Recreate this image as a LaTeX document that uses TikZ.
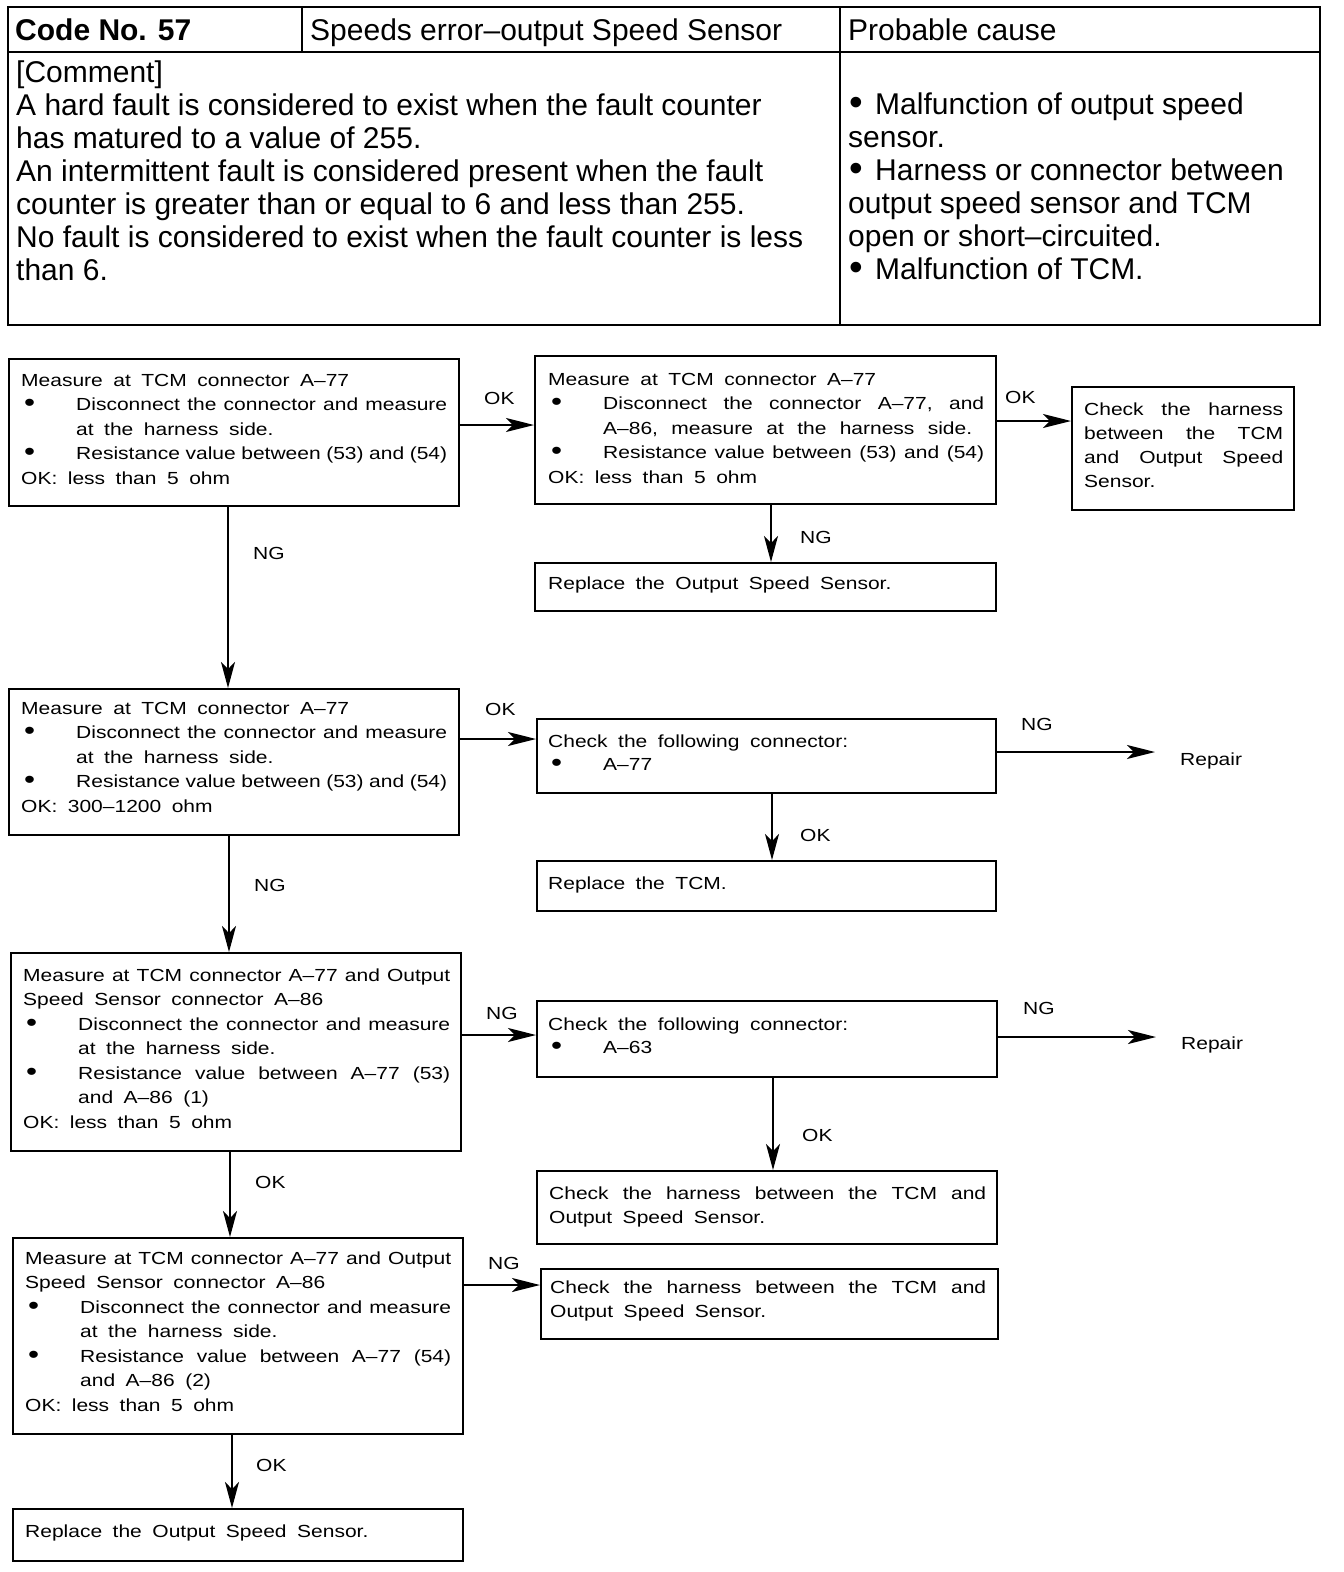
\documentclass[tikz,border=0pt]{standalone}
\usepackage{fontspec}
\setmainfont{Liberation Sans}
\newfontfamily\bxf[FakeStretch=1.2,WordSpace=1.8]{Liberation Sans}
\usetikzlibrary{arrows.meta}
\newcommand{\Bul}{\raisebox{-0.15ex}{\scalebox{1.5}{\textbullet}}}
\newcommand{\LnJ}[2]{\hbox to #1pt{\spaceskip=0pt plus 1fil\xspaceskip=0pt plus 1fil\relax #2}}
\newcommand{\LnN}[1]{\hbox{#1}}
\newcommand{\LnB}[1]{\hbox{\hbox to 55pt{\hskip3pt\Bul\hss}#1}}
\newcommand{\LnBJ}[2]{\hbox{\hbox to 55pt{\hskip3pt\Bul\hss}\LnJ{#1}{#2}}}
\newcommand{\LnI}[1]{\hbox{\hskip55pt #1}}
\newcommand{\LnIJ}[2]{\hbox{\hskip55pt\LnJ{#1}{#2}}}
\newcommand{\TBl}[1]{\hbox{\hbox to 27pt{\hskip1pt\raisebox{-0.1ex}{\scalebox{1.3}{\textbullet}}\hss}#1}}
\begin{document}
\begin{tikzpicture}[x=1pt,y=-1pt,
  bx/.style={draw, line width=1.8pt, inner sep=0pt, anchor=north west},
  txt/.style={anchor=base west, inner sep=0pt, font=\bxf\fontsize{17.5pt}{24.5pt}\selectfont\frenchspacing},
  lbl/.style={anchor=base west, inner sep=0pt, font=\bxf\fontsize{17.5pt}{24.5pt}\selectfont},
  tt/.style={anchor=base west, inner sep=0pt, font=\fontsize{30pt}{33pt}\selectfont},
  tline/.style={line width=1.8pt},
  harr/.style={line width=2.2pt, -{Stealth[length=28pt,width=14pt,inset=7pt]}},
  varr/.style={line width=1.2pt, -{Stealth[length=26pt,width=14pt,inset=7pt]}}]
\path[fill=white] (0,0) rectangle (1344,1572);
\useasboundingbox (0,0) rectangle (1344,1572);

% ---------- top table ----------
\draw[tline] (8,7) rectangle (1320,325);
\draw[tline] (8,52) -- (1320,52);
\draw[tline] (302,7) -- (302,52);
\draw[tline] (840,7) -- (840,325);
\node[tt] (code) at (15,40) {\bfseries Code No. 57};
\node[tt] (title) at (310,40) {Speeds error–output Speed Sensor};
\node[tt] (pc) at (848,40) {Probable cause};
\node[tt] (cmt) at (16,82) {\vtop{\baselineskip=33pt
  \LnN{[Comment]}
  \LnN{A hard fault is considered to exist when the fault counter}
  \LnN{has matured to a value of 255.}
  \LnN{An intermittent fault is considered present when the fault}
  \LnN{counter is greater than or equal to 6 and less than 255.}
  \LnN{No fault is considered to exist when the fault counter is less}
  \LnN{than 6.}}};
\node[tt] (cause) at (848,114) {\vtop{\baselineskip=33pt
  \TBl{Malfunction of output speed}
  \LnN{sensor.}
  \TBl{Harness or connector between}
  \LnN{output speed sensor and TCM}
  \LnN{open or short–circuited.}
  \TBl{Malfunction of TCM.}}};

% ---------- boxes ----------
\node[bx, minimum width=450pt, minimum height=147pt] (A1) at (8,358) {};
\node[bx, minimum width=461pt, minimum height=148pt] (B1) at (534,355) {};
\node[bx, minimum width=222pt, minimum height=123pt] (C1) at (1071,386) {};
\node[bx, minimum width=461pt, minimum height=48pt] (D1) at (534,562) {};
\node[bx, minimum width=450pt, minimum height=146pt] (A2) at (8,688) {};
\node[bx, minimum width=459pt, minimum height=74pt] (B2) at (536,718) {};
\node[bx, minimum width=459pt, minimum height=50pt] (D2) at (536,860) {};
\node[bx, minimum width=450pt, minimum height=198pt] (A3) at (10,952) {};
\node[bx, minimum width=460pt, minimum height=76pt] (B3) at (536,1000) {};
\node[bx, minimum width=460pt, minimum height=73pt] (D3) at (536,1170) {};
\node[bx, minimum width=450pt, minimum height=196pt] (A4) at (12,1237) {};
\node[bx, minimum width=457pt, minimum height=70pt] (B4) at (540,1268) {};
\node[bx, minimum width=450pt, minimum height=52pt] (D4) at (12,1508) {};

% ---------- box texts ----------
\node[txt] (A1t) at (21,386) {\vtop{
  \LnN{Measure at TCM connector A–77}
  \LnBJ{371}{Disconnect the connector and measure}
  \LnI{at the harness side.}
  \LnBJ{371}{Resistance value between (53) and (54)}
  \LnN{OK: less than 5 ohm}}};
\node[txt] (B1t) at (548,385) {\vtop{
  \LnN{Measure at TCM connector A–77}
  \LnBJ{381}{Disconnect the connector A–77, and}
  \LnIJ{369}{A–86, measure at the harness side.}
  \LnBJ{381}{Resistance value between (53) and (54)}
  \LnN{OK: less than 5 ohm}}};
\node[txt] (C1t) at (1084,415) {\vtop{\baselineskip=24pt
  \LnJ{199}{Check the harness}
  \LnJ{199}{between the TCM}
  \LnJ{199}{and Output Speed}
  \LnN{Sensor.}}};
\node[txt] (D1t) at (548,589) {Replace the Output Speed Sensor.};
\node[txt] (A2t) at (21,714) {\vtop{
  \LnN{Measure at TCM connector A–77}
  \LnBJ{371}{Disconnect the connector and measure}
  \LnI{at the harness side.}
  \LnBJ{371}{Resistance value between (53) and (54)}
  \LnN{OK: 300–1200 ohm}}};
\node[txt] (B2t) at (548,747) {\vtop{\baselineskip=23.5pt
  \LnN{Check the following connector:}
  \LnB{A–77}}};
\node[txt] (D2t) at (548,889) {Replace the TCM.};
\node[txt] (A3t) at (23,981) {\vtop{
  \LnJ{427}{Measure at TCM connector A–77 and Output}
  \LnN{Speed Sensor connector A–86}
  \LnBJ{372}{Disconnect the connector and measure}
  \LnI{at the harness side.}
  \LnBJ{372}{Resistance value between A–77 (53)}
  \LnI{and A–86 (1)}
  \LnN{OK: less than 5 ohm}}};
\node[txt] (B3t) at (548,1030) {\vtop{\baselineskip=23.5pt
  \LnN{Check the following connector:}
  \LnB{A–63}}};
\node[txt] (D3t) at (549,1199) {\vtop{\baselineskip=24pt
  \LnJ{437}{Check the harness between the TCM and}
  \LnN{Output Speed Sensor.}}};
\node[txt] (A4t) at (25,1264) {\vtop{
  \LnJ{426}{Measure at TCM connector A–77 and Output}
  \LnN{Speed Sensor connector A–86}
  \LnBJ{371}{Disconnect the connector and measure}
  \LnI{at the harness side.}
  \LnBJ{371}{Resistance value between A–77 (54)}
  \LnI{and A–86 (2)}
  \LnN{OK: less than 5 ohm}}};
\node[txt] (B4t) at (550,1293) {\vtop{\baselineskip=24pt
  \LnJ{436}{Check the harness between the TCM and}
  \LnN{Output Speed Sensor.}}};
\node[txt] (D4t) at (25,1537) {Replace the Output Speed Sensor.};

% ---------- repair targets ----------
\node[lbl] (R1) at (1180,765) {Repair};
\node[lbl] (R2) at (1181,1049) {Repair};
\coordinate (R1a) at (1155,752);
\coordinate (R2a) at (1156,1037);

% ---------- connectors ----------
\draw[harr] (A1.east |- 0,425) -- (B1.west |- 0,425);
\draw[harr] (B1.east |- 0,421) -- (C1.west |- 0,421);
\draw[varr] (B1.south -| 771,0) -- (D1.north -| 771,0);
\draw[varr] (A1.south -| 228,0) -- (A2.north -| 228,0);
\draw[harr] (A2.east |- 0,739) -- (B2.west |- 0,739);
\draw[harr] (B2.east |- 0,752) -- (R1a);
\draw[varr] (B2.south -| 772,0) -- (D2.north -| 772,0);
\draw[varr] (A2.south -| 229,0) -- (A3.north -| 229,0);
\draw[harr] (A3.east |- 0,1035) -- (B3.west |- 0,1035);
\draw[harr] (B3.east |- 0,1037) -- (R2a);
\draw[varr] (B3.south -| 773,0) -- (D3.north -| 773,0);
\draw[varr] (A3.south -| 230,0) -- (A4.north -| 230,0);
\draw[harr] (A4.east |- 0,1285) -- (B4.west |- 0,1285);
\draw[varr] (A4.south -| 232,0) -- (D4.north -| 232,0);

% ---------- labels ----------
\node[lbl] (l1) at (484,404) {OK};
\node[lbl] (l2) at (1005,403) {OK};
\node[lbl] (l3) at (800,543) {NG};
\node[lbl] (l4) at (253,559) {NG};
\node[lbl] (l5) at (485,715) {OK};
\node[lbl] (l6) at (1021,730) {NG};
\node[lbl] (l7) at (800,841) {OK};
\node[lbl] (l8) at (254,891) {NG};
\node[lbl] (l9) at (486,1019) {NG};
\node[lbl] (l10) at (1023,1014) {NG};
\node[lbl] (l11) at (802,1141) {OK};
\node[lbl] (l12) at (255,1188) {OK};
\node[lbl] (l13) at (488,1269) {NG};
\node[lbl] (l14) at (256,1471) {OK};
\end{tikzpicture}
\end{document}
